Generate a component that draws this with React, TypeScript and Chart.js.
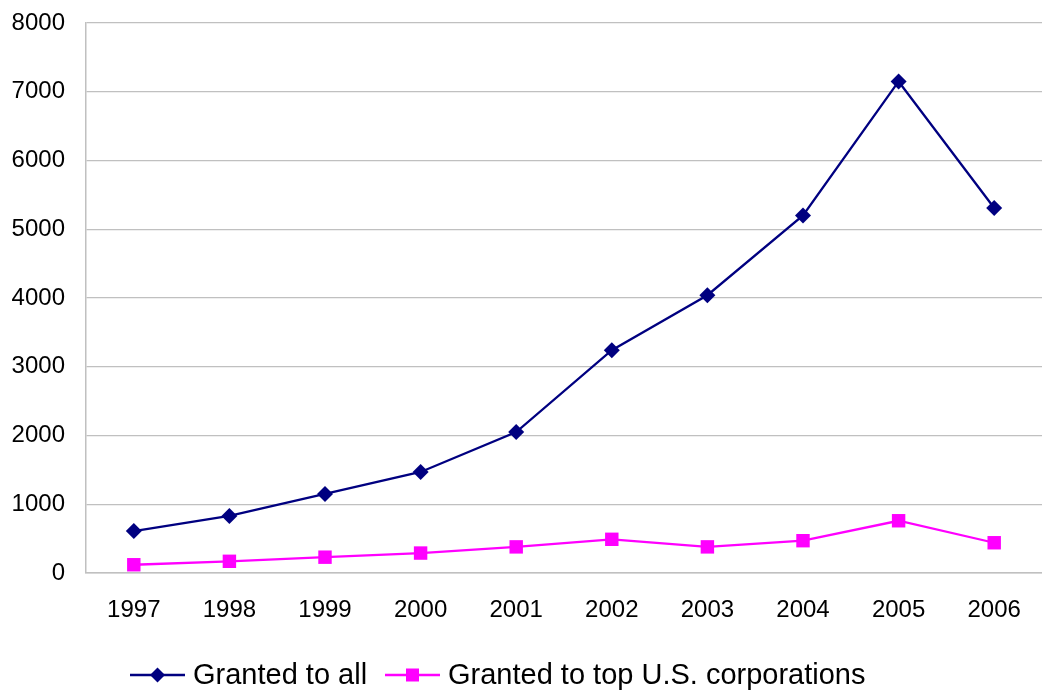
import React, { useEffect, useRef } from "react";
import { Chart, registerables } from "chart.js";

Chart.register(...registerables);

const years = ["1997", "1998", "1999", "2000", "2001", "2002", "2003", "2004", "2005", "2006"];
const grantedAll = [610, 830, 1150, 1470, 2050, 3240, 4040, 5200, 7150, 5310];
const grantedTop = [120, 170, 230, 290, 380, 490, 380, 470, 760, 440];
const seriesNames = ["Granted to all", "Granted to top U.S. corporations"];
const seriesColors = ["#000080", "#FF00FF"];
const seriesMarkers = ["rectRot", "rect"];

const FONT = "'Liberation Sans', Arial, sans-serif";

const lineLegend = {
  id: "lineLegend",
  afterDraw(chart: any) {
    const ctx = chart.ctx;
    const y = 675;
    const lineX = [130, 385];
    const lineW = 55;
    ctx.save();
    chart.data.datasets.forEach((ds: any, i: number) => {
      const x0 = lineX[i];
      ctx.strokeStyle = ds.borderColor;
      ctx.lineWidth = 2.3;
      ctx.beginPath();
      ctx.moveTo(x0, y);
      ctx.lineTo(x0 + lineW, y);
      ctx.stroke();
      ctx.fillStyle = ds.backgroundColor;
      const cx = x0 + lineW / 2;
      if (ds.pointStyle === "rectRot") {
        const r = 7.5;
        ctx.beginPath();
        ctx.moveTo(cx, y - r);
        ctx.lineTo(cx + r, y);
        ctx.lineTo(cx, y + r);
        ctx.lineTo(cx - r, y);
        ctx.closePath();
        ctx.fill();
      } else {
        const s = 6.5;
        ctx.fillRect(cx - s, y - s, 2 * s, 2 * s);
      }
      ctx.fillStyle = "#000000";
      ctx.font = `29px ${FONT}`;
      ctx.textBaseline = "middle";
      ctx.textAlign = "left";
      ctx.fillText(ds.label, x0 + lineW + 8, y + 1);
    });
    ctx.restore();
  },
};

export default function App() {
  const ref = useRef<HTMLCanvasElement | null>(null);
  useEffect(() => {
    document.body.style.margin = "0";
    if (!ref.current) return;
    const chart = new Chart(ref.current, {
      type: "line",
      data: {
        labels: years,
        datasets: [grantedAll, grantedTop].map((d, i) => ({
          label: seriesNames[i],
          data: d,
          borderColor: seriesColors[i],
          backgroundColor: seriesColors[i],
          borderWidth: 2.3,
          pointStyle: seriesMarkers[i] as any,
          pointRadius: i === 0 ? 8 : 9.5,
          pointBorderWidth: 0,
          tension: 0,
          clip: false as any,
        })),
      },
      options: {
        animation: false,
        responsive: false,
        maintainAspectRatio: false,
        layout: { autoPadding: false, padding: { top: 23, right: 0, left: 0, bottom: 0 } },
        plugins: {
          legend: { display: false },
          tooltip: { enabled: false },
        },
        scales: {
          x: {
            offset: true,
            grid: { display: false, drawTicks: false },
            border: { display: true, color: "#c0c0c0", width: 1.5 },
            ticks: {
              color: "#000000",
              font: { size: 24, family: FONT },
              padding: 23,
              maxRotation: 0,
            },
            afterFit(scale: any) {
              scale.height = 121;
              scale.paddingLeft = 0;
              scale.paddingRight = 0;
            },
          },
          y: {
            min: 0,
            max: 8000,
            grid: { color: "#c0c0c0", lineWidth: 1.2, drawTicks: false },
            border: { display: true, color: "#c0c0c0", width: 1.5 },
            ticks: {
              stepSize: 1000,
              color: "#000000",
              font: { size: 24, family: FONT },
              padding: 21,
              callback: (v: any) => String(v),
            },
            afterFit(scale: any) {
              scale.width = 86;
              scale.paddingTop = 0;
              scale.paddingBottom = 0;
            },
          },
        },
      },
      plugins: [lineLegend],
    });
    return () => chart.destroy();
  }, []);
  return (
    <div style={{ width: 1042, height: 694 }}>
      <canvas ref={ref} width={1042} height={694} style={{ display: "block", width: 1042, height: 694 }} />
    </div>
  );
}
